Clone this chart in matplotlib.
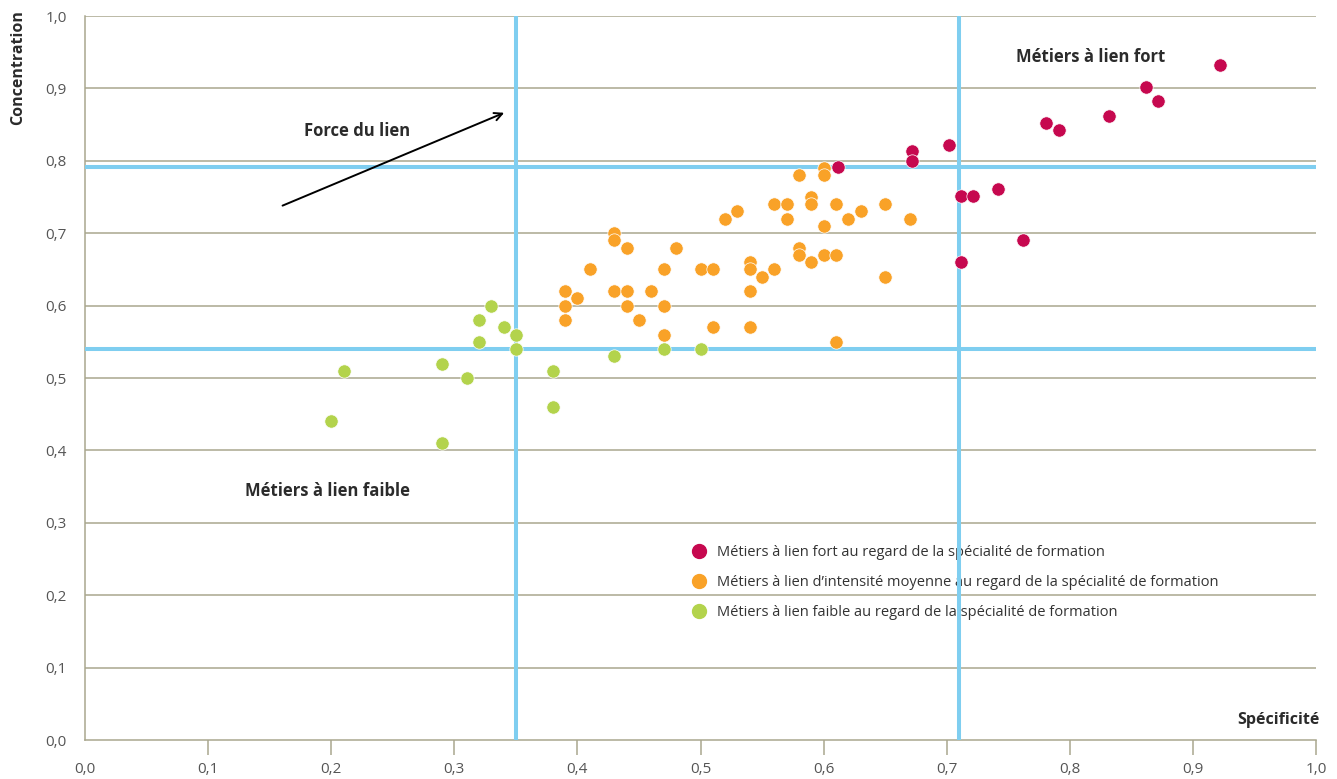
import matplotlib
matplotlib.use("Agg")
import matplotlib.pyplot as plt
from matplotlib.lines import Line2D
from matplotlib.ticker import FuncFormatter

plt.rcParams['font.family'] = ['Open Sans', 'DejaVu Sans']

# ---- data ----
fort_x = [0.922, 0.862, 0.872, 0.832, 0.781, 0.791, 0.702, 0.672, 0.672, 0.612, 0.712, 0.721, 0.742, 0.762, 0.712]
fort_y = [0.933, 0.902, 0.882, 0.862, 0.852, 0.842, 0.822, 0.813, 0.800, 0.792, 0.751, 0.751, 0.761, 0.690, 0.660]

moy_x = [0.60, 0.60, 0.58, 0.59, 0.59, 0.56, 0.57, 0.61, 0.65, 0.63, 0.62, 0.67, 0.57, 0.60, 0.53, 0.52,
         0.43, 0.43, 0.44, 0.48, 0.58, 0.58, 0.59, 0.60, 0.61, 0.54, 0.54, 0.56, 0.55, 0.65, 0.41, 0.47,
         0.50, 0.51, 0.39, 0.40, 0.39, 0.39, 0.43, 0.44, 0.46, 0.44, 0.47, 0.45, 0.54, 0.51, 0.54, 0.47, 0.61]
moy_y = [0.79, 0.78, 0.78, 0.75, 0.74, 0.74, 0.74, 0.74, 0.74, 0.73, 0.72, 0.72, 0.72, 0.71, 0.73, 0.72,
         0.70, 0.69, 0.68, 0.68, 0.68, 0.67, 0.66, 0.67, 0.67, 0.66, 0.65, 0.65, 0.64, 0.64, 0.65, 0.65,
         0.65, 0.65, 0.62, 0.61, 0.60, 0.58, 0.62, 0.62, 0.62, 0.60, 0.60, 0.58, 0.62, 0.57, 0.57, 0.56, 0.55]

faible_x = [0.33, 0.32, 0.34, 0.35, 0.32, 0.35, 0.21, 0.29, 0.31, 0.20, 0.29, 0.38, 0.38, 0.43, 0.47, 0.50]
faible_y = [0.60, 0.58, 0.57, 0.56, 0.55, 0.54, 0.51, 0.52, 0.50, 0.44, 0.41, 0.51, 0.46, 0.53, 0.54, 0.54]

seuils_x = [0.35, 0.71]
seuils_y = [0.54, 0.792]

ticks = [0.0, 0.1, 0.2, 0.3, 0.4, 0.5, 0.6, 0.7, 0.8, 0.9, 1.0]

labels = ["Métiers à lien fort au regard de la spécialité de formation",
          "Métiers à lien d’intensité moyenne au regard de la spécialité de formation",
          "Métiers à lien faible au regard de la spécialité de formation"]

c_fort = '#C6084F'
c_moy = '#F9A228'
c_faible = '#B3D34C'
c_blue = '#7FCEF0'
c_grid = '#A9A78E'
c_text = '#2B2B2B'

fig = plt.figure(figsize=(13.37, 7.79), dpi=100)
ax = fig.add_axes([85/1337, 1-740/779, 1231/1337, 724/779])
ax.set_xlim(0, 1)
ax.set_ylim(0, 1)

for t in ticks[1:]:
    ax.axhline(t, color=c_grid, lw=1.1, zorder=1)

for v in seuils_x:
    ax.axvline(v, color=c_blue, lw=2.9, zorder=3)
for v in seuils_y:
    ax.axhline(v, color=c_blue, lw=2.9, zorder=3)

kw = dict(s=92, edgecolors='white', linewidths=0.5, zorder=4)
ax.scatter(fort_x, fort_y, color=c_fort, **kw)
ax.scatter(moy_x, moy_y, color=c_moy, **kw)
ax.scatter(faible_x, faible_y, color=c_faible, **kw)

for s in ['top', 'right']:
    ax.spines[s].set_visible(False)
for s in ['left', 'bottom']:
    ax.spines[s].set_color(c_grid)
    ax.spines[s].set_linewidth(1.1)

fmt = FuncFormatter(lambda v, p: f"{v:.1f}".replace('.', ','))
ax.set_xticks(ticks)
ax.set_yticks(ticks)
ax.xaxis.set_major_formatter(fmt)
ax.yaxis.set_major_formatter(fmt)
ax.tick_params(axis='x', length=11, width=1.1, color=c_grid, pad=5, labelsize=11, labelcolor='#555555')
ax.tick_params(axis='y', length=0, pad=13, labelsize=11, labelcolor='#555555')
ax.xaxis.get_major_ticks()[0].tick1line.set_visible(False)

fig.text(18/1337, 1-10/779, 'Concentration', rotation=90, ha='center', va='top',
         fontsize=11.5, fontweight='bold', color=c_text)
fig.text(1320/1337, 1-720/779, 'Spécificité', ha='right', va='center',
         fontsize=11.5, fontweight='bold', color=c_text)

ax.text(0.817, 0.943, 'Métiers à lien fort', ha='center', va='center', fontsize=12,
        fontweight='bold', color=c_text)
ax.text(0.221, 0.841, 'Force du lien', ha='center', va='center', fontsize=12,
        fontweight='bold', color=c_text)
ax.text(0.1966, 0.344, 'Métiers à lien faible', ha='center', va='center', fontsize=12,
        fontweight='bold', color=c_text)

ax.annotate('', xy=(0.3426, 0.8678), xytext=(0.1584, 0.7366),
            arrowprops=dict(arrowstyle='->', color='black', lw=1.4, mutation_scale=14),
            zorder=5)

handles = [Line2D([], [], linestyle='none', marker='o', markersize=10, color=c)
           for c in (c_fort, c_moy, c_faible)]
leg = ax.legend(handles, labels, loc='upper left', bbox_to_anchor=(0.494, 0.269),
                frameon=False, borderpad=0, borderaxespad=0, handlelength=0.8,
                handletextpad=0.85, labelspacing=1.03, fontsize=10.5)
for t in leg.get_texts():
    t.set_color('#333333')
leg.set_zorder(2.5)

fig.savefig('out.png', dpi=100)
